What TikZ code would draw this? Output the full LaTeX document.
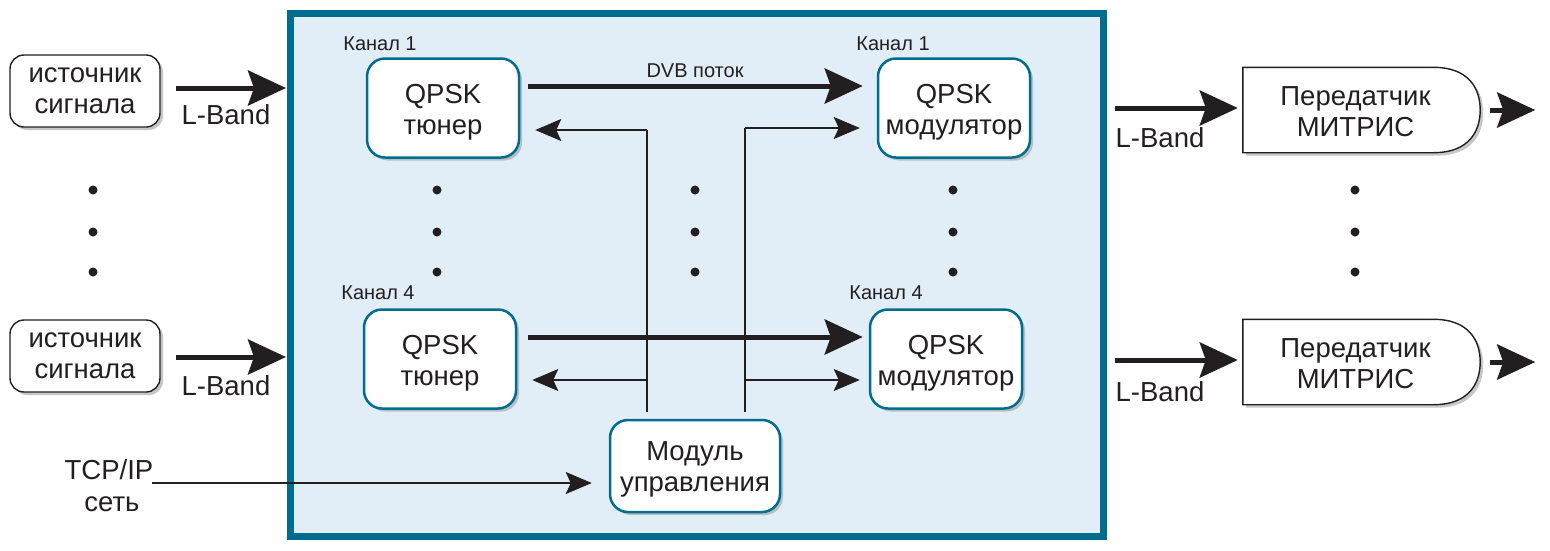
\documentclass[tikz,border=0pt]{standalone}
\usepackage{fontspec}
\setmainfont{Liberation Sans}
\usetikzlibrary{arrows.meta,shadows,calc}
\definecolor{frame}{HTML}{006C8E}
\definecolor{panel}{HTML}{E1EDF7}
\definecolor{ink}{HTML}{231F20}
\tikzset{
  big/.style={font=\fontsize{27.5}{31}\selectfont, text=ink},
  small/.style={font=\fontsize{20}{22}\selectfont, text=ink},
  shad/.style={drop shadow={shadow xshift=3pt, shadow yshift=-3pt, fill=black!40, opacity=0.55}},
  srcbox/.style={big, draw=ink, line width=1.4pt, fill=white, rounded corners=14pt, minimum width=150pt, minimum height=72pt, align=center, shad},
  blkbox/.style={draw=frame, line width=2.5pt, fill=white, rounded corners=18pt, minimum width=152pt, minimum height=99pt, shad},
  lbl/.style={big, align=center},
  thickarrow/.style={draw=ink, line width=5pt, -{Stealth[length=38pt, width=35pt, inset=6pt]}},
  thinarrow/.style={draw=ink, line width=1.8pt, -{Stealth[length=26pt, width=22pt, inset=5pt]}},
  plain/.style={draw=ink, line width=1.8pt},
  dot/.style={circle, fill=ink, inner sep=0pt, minimum size=9pt},
}
\begin{document}
\begin{tikzpicture}[x=1pt,y=-1pt]
\useasboundingbox (0,0) rectangle (1550,550);
\fill[white] (0,0) rectangle (1550,550);
% frame
\draw[line width=7pt, draw=frame, fill=panel] (290.5,13.5) rectangle (1103.5,536.5);

% sources
\node[srcbox] (src1) at (85,91) {источник\\сигнала};
\node[srcbox] (src2) at (85,356) {источник\\сигнала};
\coordinate (in1) at (286,88);
\coordinate (in2) at (286,357);
\draw[thickarrow] ([xshift=15pt]src1.east |- in1) -- (in1);
\draw[thickarrow] ([xshift=15pt]src2.east |- in2) -- (in2);
\node[big] (lb1) at (226,115) {L-Band};
\node[big] (lb2) at (226,386) {L-Band};
\foreach \y [count=\i] in {190,232,272} \node[dot] (ld\i) at (93,\y) {};

% tuners and modulators
\node[small] (k1l) at (380,44) {Канал 1};
\node[small] (k4l) at (378,293) {Канал 4};
\node[small] (k1r) at (893,44) {Канал 1};
\node[small] (k4r) at (886,293) {Канал 4};
\node[blkbox] (tun1) at (443,108) {};
\node[blkbox] (tun4) at (440,359) {};
\node[blkbox] (mod1) at (954,108) {};
\node[blkbox] (mod4) at (946,359) {};
\node[blkbox, minimum width=170pt, minimum height=92pt] (ctrl) at (695,466) {};
\node[lbl] (tun1t) at ([yshift=-4pt]tun1.center) {QPSK\\тюнер};
\node[lbl] (tun4t) at ([yshift=-4pt]tun4.center) {QPSK\\тюнер};
\node[lbl] (mod1t) at ([yshift=-4pt]mod1.center) {QPSK\\модулятор};
\node[lbl] (mod4t) at ([yshift=-4pt]mod4.center) {QPSK\\модулятор};
\node[lbl] (ctrlt) at ([yshift=-3pt]ctrl.center) {Модуль\\управления};
\foreach \y [count=\i] in {190,232,272} {
  \node[dot] (td\i) at (437,\y) {};
  \node[dot] (md\i) at (695,\y) {};
  \node[dot] (rd\i) at (953,\y) {};
}

% DVB streams
\coordinate (s1) at (528,86);
\coordinate (s4) at (528,337);
\draw[thickarrow] (s1) -- ([xshift=-14pt]mod1.west |- s1);
\node[small] (dvb) at (695,71) {DVB поток};
\draw[thickarrow] (s4) -- ([xshift=-6pt]mod4.west |- s4);

% control lines
\coordinate (vl) at (647,412);
\coordinate (vr) at (745,412);
\coordinate (vlt) at (647,130);
\coordinate (vrt) at (745,128);
\coordinate (vlm) at (647,380);
\coordinate (vrm) at (745,380);
\draw[plain] (vl) -- (vlt);
\draw[plain] (vr) -- (vrt);
\draw[thinarrow] (vlt) -- ([xshift=15pt]tun1.east |- vlt);
\draw[thinarrow] (vlm) -- ([xshift=15pt]tun4.east |- vlm);
\draw[thinarrow] (vrt) -- ([xshift=-17pt]mod1.west |- vrt);
\draw[thinarrow] (vrm) -- ([xshift=-9pt]mod4.west |- vrm);

% TCP/IP
\node[big, align=center] (tcp) at (109,486) {TCP/IP\\[1pt]\hspace*{6pt}сеть};
\coordinate (tcpin) at (152,483);
\draw[thinarrow] (tcpin) -- ([xshift=-17pt]ctrl.west |- tcpin);

% transmitters
\foreach \yc/\n/\lb in {110/1/138, 362/2/392} {
  \node[minimum width=237pt, minimum height=85pt, inner sep=0pt] (tx\n) at (1361.5,\yc) {};
  \path[draw=ink, line width=1.4pt, fill=white, shad]
    (tx\n.north west) -- ([xshift=-47pt]tx\n.north east)
    .. controls ([xshift=-10pt]tx\n.north east) and ([yshift=20pt]tx\n.east) .. (tx\n.east)
    .. controls ([yshift=-20pt]tx\n.east) and ([xshift=-10pt]tx\n.south east) .. ([xshift=-47pt]tx\n.south east)
    -- (tx\n.south west) -- cycle;
  \node[lbl] (txt\n) at ([xshift=-6pt,yshift=-2pt]tx\n.center) {Передатчик\\МИТРИС};
  \coordinate (ri\n) at (1115,\yc-2);
  \draw[thickarrow] (ri\n) -- ([xshift=-5pt]tx\n.west |- ri\n);
  \node[big] (rlb\n) at (1160,\lb) {L-Band};
  \draw[thickarrow] ([xshift=10pt]tx\n.east) -- ([xshift=55pt]tx\n.east);
}
\foreach \y [count=\i] in {190,232,272} \node[dot] (xd\i) at (1355,\y) {};
\end{tikzpicture}
\end{document}
